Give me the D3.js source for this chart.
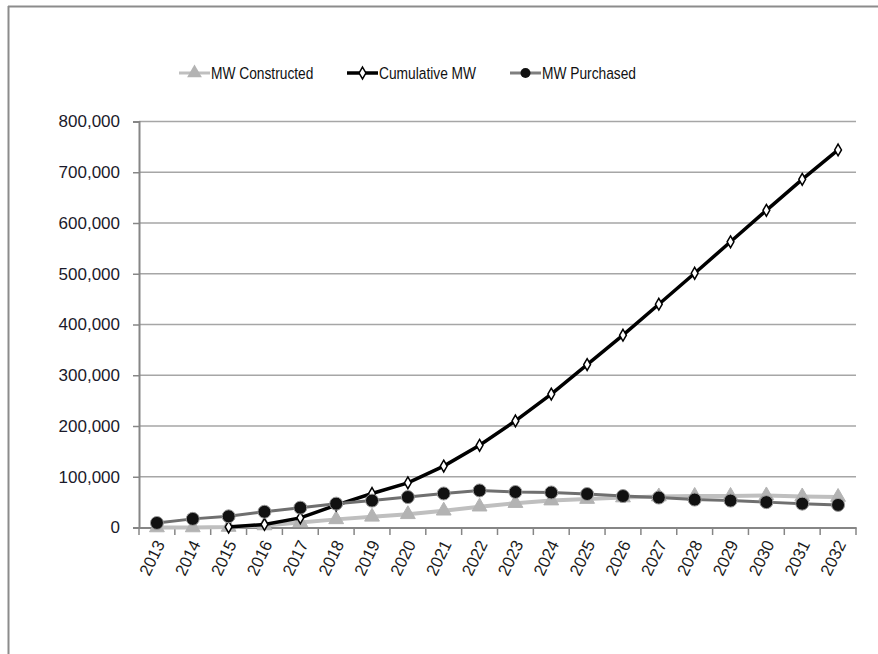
<!DOCTYPE html>
<html><head><meta charset="utf-8">
<script src="https://cdn.jsdelivr.net/npm/d3@7"></script>
<style>body{margin:0;background:#fff;}svg{display:block;}</style>
</head><body>
<svg id="c" width="878" height="654"></svg>
<script>
const years = ["2013","2014","2015","2016","2017","2018","2019","2020","2021","2022","2023","2024","2025","2026","2027","2028","2029","2030","2031","2032"];
const mwConstructed = [0,0,1000,4000,10000,16000,21000,26000,33000,41000,48000,53000,56000,59000,61000,62000,62000,63000,61000,60000];
const cumulativeMW = [null,null,1000,6000,19000,44000,67000,88000,121000,162000,210000,263000,321000,379000,440000,501000,563000,625000,686000,744000];
const mwPurchased = [9000,17000,22000,31000,39000,47000,53000,60000,67000,73000,70000,69000,66000,62000,59000,55000,53000,50000,47000,44500];
const yTicks = [0,100000,200000,300000,400000,500000,600000,700000,800000];
const seriesNames = ["MW Constructed","Cumulative MW","MW Purchased"];

const svg = d3.select("#c");
const font = "'Liberation Sans', Arial, sans-serif";

// frame
svg.append("line").attr("x1",8).attr("x2",878).attr("y1",6.5).attr("y2",6.5).attr("stroke","#8c8c8c").attr("stroke-width",2);
svg.append("line").attr("x1",8.5).attr("x2",8.5).attr("y1",6).attr("y2",654).attr("stroke","#8c8c8c").attr("stroke-width",2);

const x = d3.scaleBand().domain(years).range([139,856]);
const y = d3.scaleLinear().domain([0,800000]).range([527.5,121.5]);
const cx = d => x(d) + x.bandwidth()/2;

// gridlines
svg.append("g").selectAll("line").data(yTicks.filter(d=>d>0)).join("line")
  .attr("x1",139).attr("x2",856).attr("y1",d=>y(d)).attr("y2",d=>y(d))
  .attr("stroke","#a6a6a6").attr("stroke-width",1.5);

// y axis
const yAxis = svg.append("g").attr("transform","translate(139,0)")
  .call(d3.axisLeft(y).tickValues(yTicks).tickSize(6).tickPadding(12).tickFormat(d3.format(",")));
yAxis.select(".domain").attr("stroke","#868686").attr("stroke-width",2);
yAxis.selectAll(".tick line").attr("stroke","#868686").attr("stroke-width",1.5);
yAxis.selectAll("text").attr("font-family",font).attr("font-size",17).attr("fill","#1a1a2a")
  .attr("x",-19);

// x axis
const xAxis = svg.append("g").attr("transform","translate(0,527.5)")
  .call(d3.axisBottom(x).tickSize(0).tickFormat(d=>d));
xAxis.select(".domain").attr("stroke","#868686").attr("stroke-width",2);
xAxis.selectAll(".tick line").remove();
const bounds = years.map(d=>x(d)).concat([856]);
svg.append("g").selectAll("line").data(bounds).join("line")
  .attr("x1",d=>d).attr("x2",d=>d).attr("y1",527.5).attr("y2",535)
  .attr("stroke","#868686").attr("stroke-width",1.5);
xAxis.selectAll(".tick text")
  .attr("font-family",font).attr("font-size",17).attr("fill","#1a1a1a")
  .attr("text-anchor","end").attr("dy","0.35em").attr("y",0)
  .attr("transform","translate(3,14) rotate(-64) scale(0.97,1)");

function line(vals){
  return d3.line().defined(d=>d[1]!==null).x(d=>cx(d[0])).y(d=>y(d[1]))(years.map((yr,i)=>[yr,vals[i]]));
}
const pts = vals => years.map((yr,i)=>({yr,v:vals[i]})).filter(d=>d.v!==null);

// MW Constructed
svg.append("path").attr("d",line(mwConstructed)).attr("fill","none").attr("stroke","#bfbfbf").attr("stroke-width",4);
const tri = d3.symbol().type(d3.symbolTriangle).size(95);
svg.append("g").selectAll("path").data(pts(mwConstructed)).join("path")
  .attr("d",tri).attr("transform",d=>`translate(${cx(d.yr)},${y(d.v)})`).attr("fill","#b3b3b3").attr("stroke","#b3b3b3");

// Cumulative MW
svg.append("path").attr("d",line(cumulativeMW)).attr("fill","none").attr("stroke","#000").attr("stroke-width",3.5);
const dia = d3.symbol().type(d3.symbolDiamond).size(40);
svg.append("g").selectAll("path").data(pts(cumulativeMW)).join("path")
  .attr("d",dia).attr("transform",d=>`translate(${cx(d.yr)},${y(d.v)})`).attr("fill","#fff").attr("stroke","#000").attr("stroke-width",1.5);

// MW Purchased
svg.append("path").attr("d",line(mwPurchased)).attr("fill","none").attr("stroke","#6f6f6f").attr("stroke-width",3);
svg.append("g").selectAll("circle").data(pts(mwPurchased)).join("circle")
  .attr("cx",d=>cx(d.yr)).attr("cy",d=>y(d.v)).attr("r",6.5).attr("fill","#111").attr("stroke","#9a9a9a").attr("stroke-width",1);

// legend
const legX = [179,347,510];
const lg = svg.append("g").attr("transform","translate(0,73)");
seriesNames.forEach((name,i)=>{
  const g = lg.append("g").attr("transform",`translate(${legX[i]},0)`);
  const col = ["#bfbfbf","#000","#7f7f7f"][i];
  g.append("line").attr("x1",0).attr("x2",31).attr("stroke",col).attr("stroke-width",i===1?3.5:3);
  if(i===0) g.append("path").attr("d",tri).attr("transform","translate(15.5,0)").attr("fill","#b3b3b3");
  if(i===1) g.append("path").attr("d",dia).attr("transform","translate(15.5,0)").attr("fill","#fff").attr("stroke","#000").attr("stroke-width",1.5);
  if(i===2) g.append("circle").attr("cx",15.5).attr("r",5).attr("fill","#111");
  g.append("text").attr("x",32/0.81).attr("dy","0.35em").text(name)
   .attr("transform","scale(0.81,1)")
   .attr("font-family",font).attr("font-size",17).attr("fill","#111");
});
</script>
</body></html>
